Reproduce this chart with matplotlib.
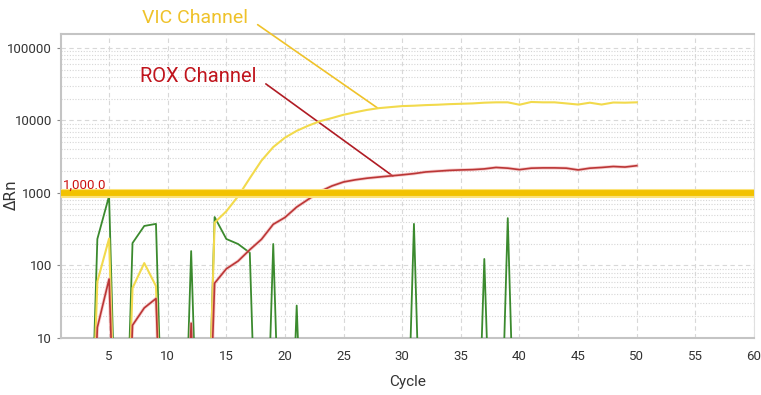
import numpy as np
import matplotlib.pyplot as plt
from matplotlib.ticker import LogLocator, NullFormatter, FixedLocator

# cycle numbers, values below the axis (signal ~0) stored as 1e-3
cycles = list(range(1, 51))
lo = 1e-3

vic = [lo, lo, lo, 60, 235, lo, 49, 108, 52, lo,
       lo, lo, lo, 390, 560, 900, 1600, 2800, 4300, 5800,
       7200, 8500, 9800, 10800, 12000, 13000, 14000, 14800, 15300, 15800,
       16000, 16300, 16500, 16800, 17000, 17200, 17600, 17800, 17800, 16500,
       18000, 17800, 17800, 17200, 16600, 17600, 16600, 17700, 17600, 17800]

rox = [lo, lo, lo, 14, 65, lo, 15, 26, 35, lo,
       lo, 16, lo, 57, 90, 115, 165, 230, 370, 460,
       640, 820, 1050, 1250, 1420, 1520, 1600, 1660, 1720, 1780,
       1850, 1950, 2000, 2050, 2080, 2100, 2150, 2250, 2200, 2100,
       2200, 2220, 2220, 2200, 2080, 2200, 2250, 2320, 2280, 2380]

noise = [lo, lo, lo, 232, 910, lo, 204, 351, 375, lo,
         lo, 158, lo, 466, 232, 198, 150, lo, 198, lo,
         28, lo, lo, lo, lo, lo, lo, lo, lo, lo,
         375, lo, lo, lo, lo, lo, 123, lo, 450, lo,
         lo, lo, lo, lo, lo, lo, lo, lo, lo, lo]

threshold = 1000
xticks = [5, 10, 15, 20, 25, 30, 35, 40, 45, 50, 55, 60]
yticks = [10, 100, 1000, 10000, 100000]

narrow = ['Roboto', 'DejaVu Sans']

fig = plt.figure(figsize=(7.61, 3.95), dpi=100)
ax = fig.add_axes([61/761, 1 - 338/395, 693/761, 304/395])
ax.set_yscale('log')

ax.plot(cycles, noise, color='#3b8a2e', lw=1.3, zorder=3)
ax.plot(cycles, vic, color='#f2da4c', lw=1.5, zorder=4)
ax.plot(cycles, rox, color='#f0a0a0', lw=2.4, alpha=0.5, zorder=4)
ax.plot(cycles, rox, color='#bb3636', lw=1.2, zorder=5)

ax.axhline(threshold, color='#fbe27a', lw=6.5, zorder=6)
ax.axhline(threshold, color='#f2c200', lw=4.2, zorder=6)
ax.text(1.05, threshold * 1.05, '1,000.0', color='#cc1010', fontsize=9.5,
        family=narrow, va='bottom', ha='left', zorder=7)

ax.set_xlim(0.9, 60)
ax.set_ylim(10, 10 ** 5.193)
ax.xaxis.set_major_locator(FixedLocator(xticks))
ax.yaxis.set_major_locator(FixedLocator(yticks))
ax.set_yticklabels([str(v) for v in yticks])
ax.yaxis.set_minor_locator(LogLocator(base=10, subs=np.arange(2, 10)))
ax.yaxis.set_minor_formatter(NullFormatter())

ax.grid(True, which='major', axis='both', color='#d8d8d8', ls=(0, (4, 3)), lw=0.8)
ax.grid(True, which='minor', axis='y', color='#d6d6d6', ls=(0, (1, 1.5)), lw=0.8)
ax.set_axisbelow(True)

for s in ['top', 'left', 'bottom']:
    ax.spines[s].set_color('#c4c4c4')
    ax.spines[s].set_linewidth(1.5)
ax.spines['right'].set_color('#e0e0e0')

ax.tick_params(axis='both', which='major', labelsize=9.5, labelcolor='#333333',
               color='#888888', length=3)
ax.tick_params(axis='x', length=0, pad=9)
ax.tick_params(axis='y', which='minor', length=0)
for lab in ax.get_xticklabels() + ax.get_yticklabels():
    lab.set_family(narrow)

ax.set_xlabel('Cycle', fontsize=11, color='#333333', labelpad=8, family=narrow)
ax.set_ylabel('ΔRn', fontsize=11, color='#333333')
ax.yaxis.set_label_coords((19 - 61) / 693, 0.47)

# callouts
ax.annotate('VIC Channel', xy=(27.9, 14860), xytext=(12.33, 10 ** 5.414),
            color='#efc22a', fontsize=14, family=narrow, ha='center', va='center',
            annotation_clip=False,
            arrowprops=dict(arrowstyle='-', color='#efc22a', lw=1.2, relpos=(1, 0.5),
                            shrinkA=6, shrinkB=0))
ax.annotate('ROX Channel', xy=(29.2, 1714), xytext=(12.59, 10 ** 4.6),
            color='#c0141c', fontsize=14.5, family=narrow, ha='center', va='center',
            arrowprops=dict(arrowstyle='-', color='#b01c24', lw=1.2, relpos=(1, 0.5),
                            shrinkA=6, shrinkB=0))

fig.savefig('out.png', dpi=100)
